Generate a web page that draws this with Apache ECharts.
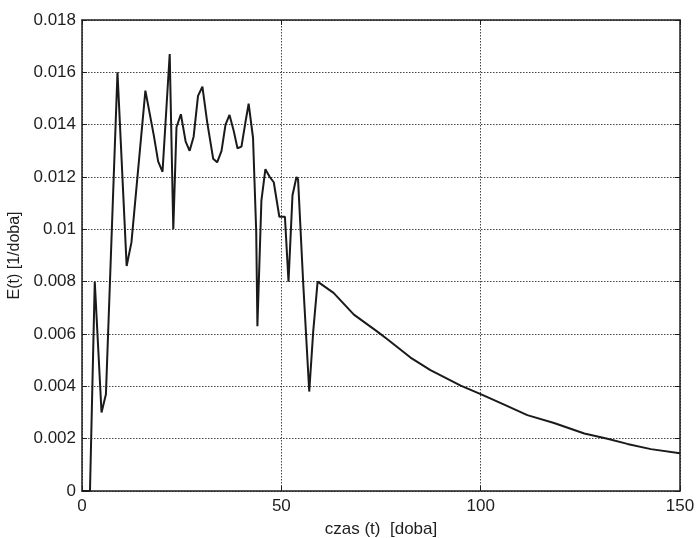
<!DOCTYPE html>
<html>
<head>
<meta charset="utf-8">
<script src="https://cdn.jsdelivr.net/npm/echarts@6/dist/echarts.min.js"></script>
<style>html,body{margin:0;padding:0;background:#fff}#c{width:696px;height:538px}</style>
</head>
<body>
<div id="c"></div>
<script>
// Time (days)
const times = [0, 2, 3.2, 4.9, 6, 8.9, 11.2, 12.4, 15.9, 18, 19.1, 20.2, 22, 22.9, 23.7, 24.8, 26, 27, 28, 29.1, 30.2, 31.4, 32.9, 33.9, 35, 36, 37, 38, 39, 40, 41, 41.8, 42.9, 43.7, 44, 45, 46, 47.1, 48.1, 49.5, 50.9, 51.8, 52.8, 53.8, 54.2, 55.5, 57, 58, 59.1, 63.1, 68.2, 74, 76.6, 82.4, 87.4, 95, 100, 105.9, 111.7, 118.4, 126, 131.8, 136.8, 142.7, 150];
// E(t) values [1/doba]
const values = [0, 0, 0.0080, 0.0030, 0.0037, 0.0160, 0.0086, 0.0095, 0.0153, 0.0136, 0.0126, 0.0122, 0.0167, 0.0100, 0.0139, 0.0144, 0.01335, 0.0130, 0.01354, 0.0151, 0.01545, 0.0141, 0.0127, 0.01256, 0.0130, 0.0140, 0.01437, 0.0138, 0.0131, 0.01316, 0.0141, 0.0148, 0.0135, 0.0099, 0.0063, 0.0111, 0.0123, 0.0120, 0.0118, 0.01048, 0.01048, 0.0080, 0.0113, 0.0120, 0.0119, 0.0079, 0.0038, 0.0061, 0.0080, 0.00757, 0.00674, 0.0061, 0.0058, 0.0051, 0.00462, 0.00403, 0.0037, 0.0033, 0.0029, 0.0026, 0.0022, 0.0020, 0.0018, 0.0016, 0.00144];
const xTicks = [0, 50, 100, 150];
const yTicks = [0, 0.002, 0.004, 0.006, 0.008, 0.01, 0.012, 0.014, 0.016, 0.018];

const data = times.map((t, i) => [t, values[i]]);
const font = 'Liberation Sans, Arial, sans-serif';
const ink = '#1e1e1e';
const gridLine = { type: [1.5, 1.5], color: '#444', width: 1 };

const chart = echarts.init(document.getElementById('c'), null, { renderer: 'canvas' });
chart.setOption({
  backgroundColor: '#fff',
  animation: false,
  grid: { left: 82, right: 16, top: 20, bottom: 47, show: false, containLabel: false, outerBoundsMode: 'none' },
  xAxis: [{
    type: 'value', min: xTicks[0], max: xTicks[xTicks.length - 1], interval: 50,
    name: 'czas (t)  [doba]', nameLocation: 'middle', nameGap: 30,
    nameTextStyle: { color: ink, fontSize: 17, fontFamily: font },
    axisLine: { show: true, lineStyle: { color: ink, width: 1.5 } },
    axisTick: { show: true, inside: true, length: 5, lineStyle: { color: ink } },
    axisLabel: { color: ink, fontSize: 17, fontFamily: font, margin: 7 },
    splitLine: { show: true, lineStyle: gridLine }
  }, {
    type: 'value', min: xTicks[0], max: xTicks[xTicks.length - 1], interval: 50, position: 'top',
    axisLine: { show: true, onZero: false, lineStyle: { color: ink, width: 1.5 } },
    axisTick: { show: true, inside: true, length: 5, lineStyle: { color: ink } },
    axisLabel: { show: false }, splitLine: { show: false }
  }],
  yAxis: [{
    type: 'value', min: yTicks[0], max: yTicks[yTicks.length - 1], interval: 0.002,
    name: 'E(t) [1/doba]', nameLocation: 'middle', nameGap: 56, nameRotate: 90,
    nameTextStyle: { color: ink, fontSize: 16, fontFamily: font },
    axisLine: { show: true, lineStyle: { color: ink, width: 1.5 } },
    axisTick: { show: true, inside: true, length: 5, lineStyle: { color: ink } },
    axisLabel: { color: ink, fontSize: 17, fontFamily: font, margin: 6,
      formatter: v => String(parseFloat(v.toFixed(3))) },
    splitLine: { show: true, lineStyle: gridLine }
  }, {
    type: 'value', min: yTicks[0], max: yTicks[yTicks.length - 1], interval: 0.002, position: 'right',
    axisLine: { show: true, onZero: false, lineStyle: { color: ink, width: 1.5 } },
    axisTick: { show: true, inside: true, length: 5, lineStyle: { color: ink } },
    axisLabel: { show: false }, splitLine: { show: false }
  }],
  series: [{
    type: 'line', data: data, showSymbol: false, symbol: 'none',
    lineStyle: { color: '#1a1a1a', width: 2 }
  }]
});
</script>
</body>
</html>
